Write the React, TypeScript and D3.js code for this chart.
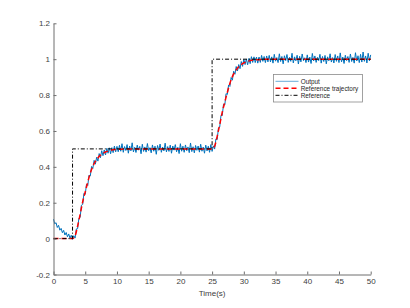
import React, { useRef, useEffect } from "react";
import { select, scaleLinear, line, axisBottom, axisLeft, range, curveMonotoneX } from "d3";

// tick values / labels
const xTicks = [0, 5, 10, 15, 20, 25, 30, 35, 40, 45, 50];
const yTicks = [-0.2, 0, 0.2, 0.4, 0.6, 0.8, 1, 1.2];
const yTickLabels = ["-0.2", "0", "0.2", "0.4", "0.6", "0.8", "1", "1.2"];

// step reference (black dash-dot)
const refTime = [0, 3, 3, 25, 25, 50];
const refValue = [0, 0, 0.5, 0.5, 1, 1];

// reference trajectory (red dashed)
const trajTime = [
  0, 3, 3.4, 3.8, 4.2, 4.6, 5.0, 5.4, 5.8, 6.2, 6.6, 7.0, 7.4, 7.8, 8.2, 8.6, 9.0, 9.8, 11, 12,
  25, 25.4, 25.8, 26.2, 26.6, 27.0, 27.4, 27.8, 28.2, 28.6, 29.0, 29.4, 29.8, 30.2, 30.6, 31.0, 31.8, 33, 34, 50,
];
const trajValue = [
  0, 0, 0.015, 0.07, 0.135, 0.205, 0.26, 0.315, 0.365, 0.403, 0.43, 0.45, 0.465, 0.475, 0.483, 0.4875, 0.492, 0.4965, 0.499, 0.5,
  0.5, 0.515, 0.57, 0.635, 0.705, 0.76, 0.815, 0.865, 0.903, 0.93, 0.95, 0.965, 0.975, 0.983, 0.9875, 0.992, 0.9965, 0.999, 1, 1,
];

// measured output (blue), sampled every 0.2 s from t = 0 to 50
const outputStep = 0.2;
const outputValue = [
  // 0 .. 3.2 s
  0.108, 0.082, 0.089, 0.062, 0.074, 0.047, 0.057, 0.033, 0.046, 0.02,
  0.034, 0.01, 0.026, 0.002, 0.019, -0.004, 0.016,
  // 3.4 .. 10 s
  0.003, 0.054, 0.055, 0.113, 0.118, 0.186, 0.191, 0.253, 0.247, 0.303,
  0.296, 0.354, 0.349, 0.402, 0.391, 0.436, 0.415, 0.453, 0.432, 0.474,
  0.451, 0.49, 0.462, 0.494, 0.466, 0.503, 0.476, 0.506, 0.473, 0.507,
  0.479, 0.516, 0.4835, 0.514,
  // 10.2 .. 25 s
  0.484, 0.52, 0.487, 0.529, 0.481, 0.513, 0.491, 0.524, 0.476, 0.516,
  0.489, 0.534, 0.483, 0.509, 0.48, 0.521, 0.493, 0.514, 0.473, 0.526,
  0.486, 0.511, 0.482, 0.53, 0.49, 0.507, 0.478, 0.522, 0.487, 0.515,
  0.47, 0.519, 0.492, 0.527, 0.481, 0.51, 0.489, 0.532, 0.483, 0.513,
  0.486, 0.521, 0.476, 0.516, 0.493, 0.524, 0.484, 0.509, 0.474, 0.529,
  0.487, 0.515, 0.481, 0.522, 0.49, 0.511, 0.479, 0.533, 0.485, 0.512,
  0.478, 0.519, 0.492, 0.516, 0.482, 0.526, 0.487, 0.51, 0.476, 0.521,
  0.489, 0.515, 0.481, 0.524, 0.486,
  // 25.2 .. 33.8 s
  0.517, 0.499, 0.555, 0.552, 0.617, 0.622, 0.686, 0.686, 0.749, 0.745,
  0.808, 0.803, 0.856, 0.848, 0.898, 0.883, 0.933, 0.916, 0.959, 0.934,
  0.97, 0.947, 0.987, 0.96, 0.999, 0.97, 1.001, 0.969, 1.004, 0.975,
  1.014, 0.982, 1.013, 0.981, 1.012, 0.978, 1.012, 0.982, 1.021, 0.988,
  1.015, 0.981, 1.018, 0.985,
  // 34 .. 50 s
  1.021, 0.985, 1.013, 0.978, 1.027, 0.989, 1.009, 0.981, 1.03, 0.987,
  1.015, 0.974, 1.019, 0.992, 1.026, 0.982, 1.01, 0.988, 1.033, 0.979,
  1.013, 0.991, 1.022, 0.973, 1.016, 0.985, 1.029, 0.992, 1.008, 0.981,
  1.024, 0.984, 1.012, 0.976, 1.032, 0.99, 1.018, 0.982, 1.01, 0.992,
  1.027, 0.978, 1.015, 0.987, 1.021, 0.974, 1.013, 0.991, 1.03, 0.984,
  1.009, 0.979, 1.026, 0.988, 1.018, 0.981, 1.035, 0.985, 1.012, 0.976,
  1.022, 0.992, 1.015, 0.982, 1.029, 0.987, 1.01, 0.978, 1.036, 0.99,
  1.019, 0.981, 1.027, 0.984, 1.04, 0.988, 1.018, 0.979, 1.033, 0.991,
  1.024,
];

const legendItems = [
  { label: "Output", color: "#0072BD", dash: null, width: 0.6 },
  { label: "Reference trajectory", color: "#FF0000", dash: "5,3", width: 1.5 },
  { label: "Reference", color: "#000000", dash: "4,2,1,2", width: 1 },
];

const WIDTH = 410;
const HEIGHT = 308;
const FONT = "'Liberation Sans', Arial, Helvetica, sans-serif";

function StepResponseChart() {
  const svgRef = useRef<SVGSVGElement>(null);

  useEffect(() => {
    const svg = select(svgRef.current);
    svg.selectAll("*").remove();

    const xScale = scaleLinear().domain([0, 50]).range([53.5, 370.7]);
    const yScale = scaleLinear().domain([-0.2, 1.2]).range([274.5, 23.3]);

    const plot = svg.append("g");

    // output
    const outputTime = range(outputValue.length).map((i) => i * outputStep);
    const outLine = line<number>()
      .x((d, i) => xScale(outputTime[i]))
      .y((d) => yScale(d));
    plot
      .append("path")
      .datum(outputValue)
      .attr("fill", "none")
      .attr("stroke", "#0072BD")
      .attr("stroke-width", 1)
      .attr("stroke-linejoin", "round")
      .attr("d", outLine);

    // reference trajectory
    const trajLine = line<number>()
      .x((d, i) => xScale(trajTime[i]))
      .y((d) => yScale(d))
      .curve(curveMonotoneX);
    plot
      .append("path")
      .datum(trajValue)
      .attr("fill", "none")
      .attr("stroke", "#FF0000")
      .attr("stroke-width", 1.5)
      .attr("stroke-dasharray", "5,3")
      .attr("d", trajLine);

    // step reference
    const refLine = line<number>()
      .x((d, i) => xScale(refTime[i]))
      .y((d) => yScale(d));
    plot
      .append("path")
      .datum(refValue)
      .attr("fill", "none")
      .attr("stroke", "#000")
      .attr("stroke-width", 1)
      .attr("stroke-dasharray", "4,2,1,2")
      .attr("d", refLine);

    // axes
    const xAxis = axisBottom(xScale)
      .tickValues(xTicks)
      .tickFormat((d) => String(d))
      .tickSizeInner(-3)
      .tickSizeOuter(0)
      .tickPadding(4);
    const gx = svg
      .append("g")
      .attr("transform", `translate(0, ${yScale(-0.2)})`)
      .call(xAxis);

    const yAxis = axisLeft(yScale)
      .tickValues(yTicks)
      .tickFormat((d, i) => yTickLabels[i])
      .tickSizeInner(-3)
      .tickSizeOuter(0)
      .tickPadding(3.5);
    const gy = svg
      .append("g")
      .attr("transform", `translate(${xScale(0)}, 0)`)
      .call(yAxis);

    [gx, gy].forEach((g) => {
      g.attr("font-family", FONT).attr("font-size", 8);
      g.selectAll("path, line").attr("stroke", "#6e6e6e").attr("stroke-width", 1);
      g.selectAll("text").attr("fill", "#404040");
    });

    svg
      .append("text")
      .attr("x", (xScale(0) + xScale(50)) / 2)
      .attr("y", 295.5)
      .attr("text-anchor", "middle")
      .attr("font-family", FONT)
      .attr("font-size", 8)
      .attr("fill", "#404040")
      .text("Time(s)");

    // legend
    const legend = svg.append("g").attr("transform", "translate(273.5, 74.5)");
    legend
      .append("rect")
      .attr("width", 89)
      .attr("height", 27.5)
      .attr("fill", "#fff")
      .attr("stroke", "#8a8a8a")
      .attr("stroke-width", 0.8);
    legendItems.forEach((item, i) => {
      const y = 6.8 + i * 7;
      legend
        .append("line")
        .attr("x1", 2)
        .attr("x2", 25)
        .attr("y1", y)
        .attr("y2", y)
        .attr("stroke", item.color)
        .attr("stroke-width", item.width)
        .attr("stroke-dasharray", item.dash);
      legend
        .append("text")
        .attr("x", 27.2)
        .attr("y", y)
        .attr("dy", "0.35em")
        .attr("font-family", FONT)
        .attr("font-size", 6.4)
        .attr("fill", "#262626")
        .text(item.label);
    });
  }, []);

  return (
    <svg
      ref={svgRef}
      width={WIDTH}
      height={HEIGHT}
      style={{ position: "absolute", left: 0, top: 0, background: "#fff" }}
    />
  );
}

export default function App() {
  return <StepResponseChart />;
}
